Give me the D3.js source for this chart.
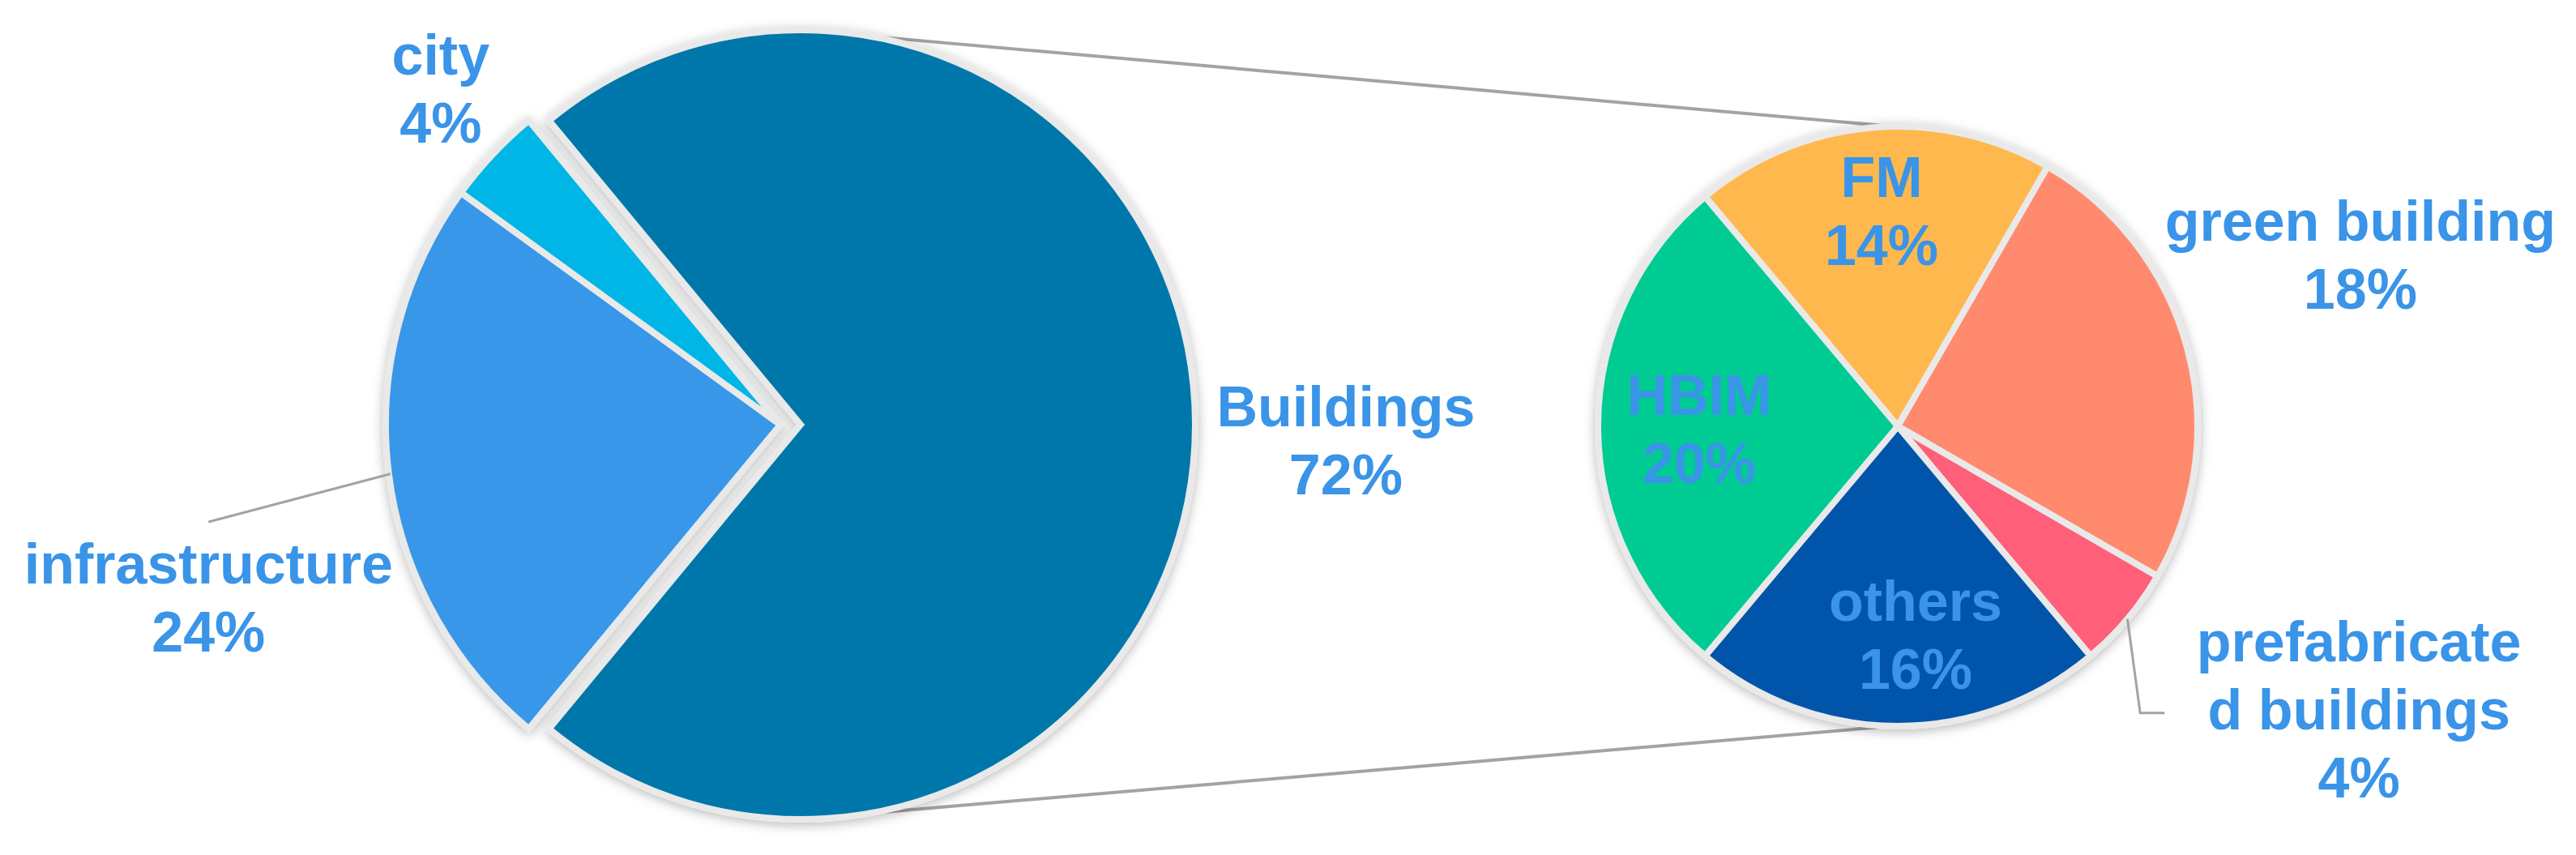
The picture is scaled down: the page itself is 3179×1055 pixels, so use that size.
<!DOCTYPE html>
<html>
<head>
<meta charset="utf-8">
<script src="https://cdn.jsdelivr.net/npm/d3@7"></script>
<style>
  html, body { margin: 0; padding: 0; background: #fff; }
  svg { display: block; }
  text {
    font-family: "Liberation Sans", Arial, sans-serif;
    font-weight: bold;
    font-size: 70px;
    fill: #3a94e8;
  }
</style>
</head>
<body>
<svg></svg>
<script>
// main pie
const mainCategories = ["Buildings", "infrastructure", "city"];
const mainValues = [72, 24, 4];

// secondary pie (split of Buildings)
const subCategories = ["FM", "green building", "prefabricated buildings", "others", "HBIM"];
const subValues = [14, 18, 4, 16, 20];
const subLabelLines = [["FM"], ["green building"], ["prefabricate", "d buildings"], ["others"], ["HBIM"]];

const mainColors = ["#0177aa", "#3897e9", "#01b6e6"];
const subColors = ["#ffb84e", "#ff8a6e", "#ff5f79", "#0154ab", "#00cb92"];

(function (d3) {
    const width = 3179;
    const height = 1055;

    const svg = d3.select("svg");
    svg.attr("width", width).attr("height", height);

    const deg = Math.PI / 180;

    // geometry of the two pies
    const main = { cx: 963, cy: 524, r: 485, explode: 25 };
    const sub = { cx: 2342, cy: 526, r: 368 };

    // label placement: angle tweak (deg) from slice middle, distance as factor of radius
    const mainLabelLayout = {
        "Buildings": { da: 1.6, k: 1.388 },
        "infrastructure": { da: -9.6, k: 1.52 },
        "city": { da: 1.5, k: 1.216 }
    };
    const subLabelLayout = {
        "FM": { da: 0.7, k: 0.725 },
        "green building": { da: -5.4, k: 1.655 },
        "prefabricated buildings": { da: -8.5, k: 1.814 },
        "others": { da: -4.9, k: 0.70 },
        "HBIM": { da: -0.7, k: 0.666 }
    };
    const lineStep = 84;
    const capHalf = 25;

    const defs = svg.append("defs");
    defs.append("filter")
        .attr("id", "shadow")
        .attr("x", "-10%").attr("y", "-10%")
        .attr("width", "120%").attr("height", "120%")
        .append("feDropShadow")
        .attr("dx", 0).attr("dy", 3)
        .attr("stdDeviation", 7)
        .attr("flood-color", "#000")
        .attr("flood-opacity", 0.28);

    // ==================================================
    // pie layouts

    const mainTotal = d3.sum(mainValues);
    const mainStart = Math.PI / 2 - (mainValues[0] / mainTotal) * Math.PI;
    const mainPie = d3.pie().sort(null)
          .startAngle(mainStart)
          .endAngle(mainStart + 2 * Math.PI);
    const mainArcs = mainPie(mainValues.map((v, i) => ({ name: mainCategories[i], value: v, color: mainColors[i] })).map(d => d.value))
          .map((a, i) => Object.assign(a, { name: mainCategories[i], color: mainColors[i] }));

    const subStart = -40 * deg;
    const subPie = d3.pie().sort(null)
          .startAngle(subStart)
          .endAngle(subStart + 2 * Math.PI);
    const subArcs = subPie(subValues)
          .map((a, i) => Object.assign(a, { name: subCategories[i], color: subColors[i], lines: subLabelLines[i] }));

    function mid(a) {
        return (a.startAngle + a.endAngle) / 2;
    }

    function polar(cx, cy, ang, r) {
        return [cx + r * Math.sin(ang), cy - r * Math.cos(ang)];
    }

    // exploded centre of the Buildings slice
    const bAng = mid(mainArcs[0]);
    const bCenter = polar(main.cx, main.cy, bAng, main.explode);

    // ==================================================
    // connector lines: outer common tangents of both circles

    const dx = sub.cx - bCenter[0], dy = sub.cy - bCenter[1];
    const dist = Math.hypot(dx, dy);
    const base = Math.atan2(dy, dx);
    const alpha = Math.acos((main.r - sub.r) / dist);
    [base + alpha, base - alpha].forEach(function (t) {
        svg.append("line")
            .attr("x1", bCenter[0] + main.r * Math.cos(t))
            .attr("y1", bCenter[1] + main.r * Math.sin(t))
            .attr("x2", sub.cx + sub.r * Math.cos(t))
            .attr("y2", sub.cy + sub.r * Math.sin(t))
            .attr("stroke", "#a3a3a3")
            .attr("stroke-width", 4);
    });

    // ==================================================
    // slices

    const mainArc = d3.arc().innerRadius(0).outerRadius(main.r + 2);
    const subArc = d3.arc().innerRadius(0).outerRadius(sub.r + 2);

    const gMain = svg.append("g")
          .attr("filter", "url(#shadow)")
          .attr("transform", `translate(${main.cx},${main.cy})`);
    gMain.selectAll("path")
        .data(mainArcs)
        .enter()
        .append("path")
        .attr("d", mainArc)
        .attr("fill", d => d.color)
        .attr("stroke", "#e9e9e9")
        .attr("stroke-width", 8)
        .attr("stroke-linejoin", "miter")
        .attr("transform", function (d, i) {
            if (i !== 0) return null;
            return `translate(${bCenter[0] - main.cx},${bCenter[1] - main.cy})`;
        });

    const gSub = svg.append("g")
          .attr("filter", "url(#shadow)")
          .attr("transform", `translate(${sub.cx},${sub.cy})`);
    gSub.selectAll("path")
        .data(subArcs)
        .enter()
        .append("path")
        .attr("d", subArc)
        .attr("fill", d => d.color)
        .attr("stroke", "#e9e9e9")
        .attr("stroke-width", 8);

    // ==================================================
    // labels

    function labelAnchor(a, layout, cx, cy, r) {
        const l = layout[a.name];
        return polar(cx, cy, mid(a) + l.da * deg, r * l.k);
    }

    function drawLabel(pos, lines) {
        const n = lines.length;
        const t = svg.append("text").attr("text-anchor", "middle");
        lines.forEach(function (s, i) {
            t.append("tspan")
                .attr("x", pos[0])
                .attr("y", pos[1] - (n - 1) * lineStep / 2 + capHalf + i * lineStep)
                .text(s);
        });
    }

    const anchors = {};
    mainArcs.forEach(function (a, i) {
        const c = i === 0 ? bCenter : [main.cx, main.cy];
        const p = labelAnchor(a, mainLabelLayout, c[0], c[1], main.r);
        anchors[a.name] = p;
        drawLabel(p, [a.name, Math.round(a.value) + "%"]);
    });
    subArcs.forEach(function (a) {
        const p = labelAnchor(a, subLabelLayout, sub.cx, sub.cy, sub.r);
        anchors[a.name] = p;
        drawLabel(p, a.lines.concat([a.value + "%"]));
    });

    // ==================================================
    // leader lines

    const leader = d3.line();

    const infra = mainArcs[1];
    const infraPos = anchors["infrastructure"];
    svg.append("path")
        .attr("d", leader([
            polar(main.cx, main.cy, mid(infra), main.r),
            [infraPos[0], infraPos[1] - lineStep / 2 - capHalf - 26]
        ]))
        .attr("fill", "none")
        .attr("stroke", "#a3a3a3")
        .attr("stroke-width", 3);

    const pre = subArcs[2];
    const prePos = anchors["prefabricated buildings"];
    const preEnd = [prePos[0] - 240, prePos[1] + 5];
    svg.append("path")
        .attr("d", leader([
            polar(sub.cx, sub.cy, mid(pre), sub.r + 2),
            [preEnd[0] - 30, preEnd[1]],
            preEnd
        ]))
        .attr("fill", "none")
        .attr("stroke", "#a3a3a3")
        .attr("stroke-width", 3);
})(d3);
</script>
</body>
</html>
